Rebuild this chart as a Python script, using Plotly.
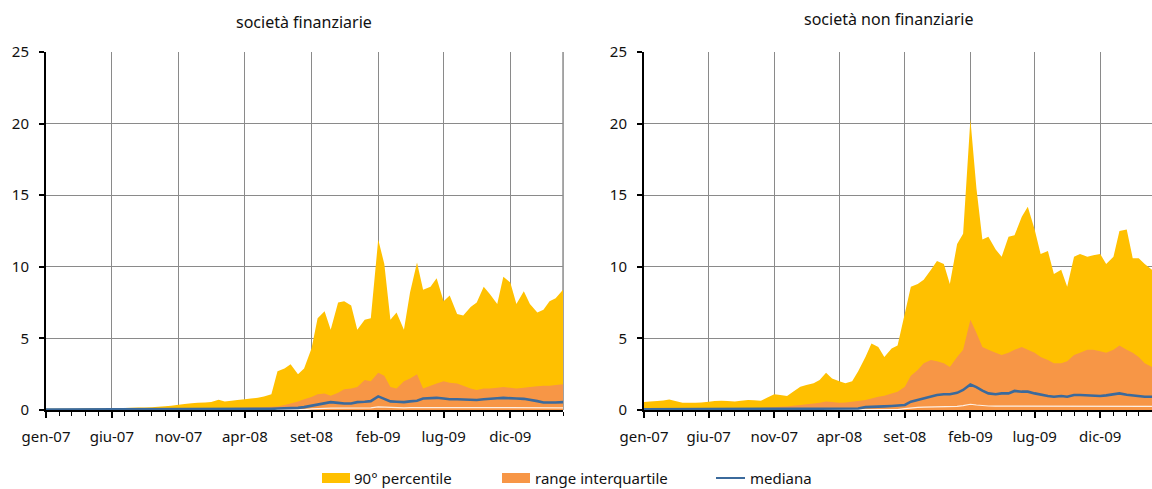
import pandas as pd
import plotly.graph_objects as go
from plotly.subplots import make_subplots

# semi-monthly observations, Jan 2007 - Apr 2010
dates = pd.date_range("2007-01-01", periods=79, freq="SMS")

tick_dates = ["2007-01-01", "2007-06-01", "2007-11-01", "2008-04-01",
              "2008-09-01", "2009-02-01", "2009-07-01", "2009-12-01"]
tick_labels = ["gen-07", "giu-07", "nov-07", "apr-08", "set-08", "feb-09", "lug-09", "dic-09"]

# società finanziarie
fin_p90 = [0.08, 0.08, 0.08, 0.08, 0.09, 0.09, 0.1, 0.1, 0.1, 0.1,
           0.12, 0.12, 0.14, 0.15, 0.17, 0.18, 0.2, 0.22, 0.26, 0.3,
           0.36, 0.42, 0.47, 0.5, 0.52, 0.55, 0.72, 0.6, 0.65, 0.7,
           0.75, 0.8, 0.85, 0.95, 1.1, 2.7, 2.9, 3.2, 2.5, 2.9,
           4.3, 6.4, 6.9, 5.6, 7.5, 7.6, 7.3, 5.6, 6.3, 6.4,
           11.9, 10.2, 6.3, 6.8, 5.6, 8.2, 10.3, 8.4, 8.6, 9.2,
           7.6, 8.0, 6.7, 6.6, 7.2, 7.5, 8.6, 8.1, 7.4, 9.3,
           8.9, 7.4, 8.3, 7.4, 6.8, 7.0, 7.6, 7.8, 8.4]
fin_p75 = [0.04, 0.04, 0.04, 0.04, 0.04, 0.04, 0.04, 0.04, 0.04, 0.04,
           0.05, 0.05, 0.05, 0.05, 0.05, 0.05, 0.05, 0.05, 0.05, 0.05,
           0.07, 0.07, 0.07, 0.07, 0.1, 0.1, 0.12, 0.12, 0.14, 0.15,
           0.16, 0.17, 0.18, 0.2, 0.22, 0.25, 0.35, 0.45, 0.6, 0.75,
           0.9, 1.1, 1.15, 1.0, 1.2, 1.45, 1.5, 1.6, 2.1, 2.0,
           2.6, 2.4, 1.6, 1.5, 2.0, 2.2, 2.5, 1.5, 1.7, 1.85,
           2.0, 1.9, 1.85, 1.7, 1.5, 1.4, 1.5, 1.5, 1.55, 1.6,
           1.55, 1.5, 1.55, 1.6, 1.65, 1.7, 1.7, 1.75, 1.8]
fin_median = [0.04, 0.04, 0.04, 0.04, 0.04, 0.04, 0.04, 0.04, 0.04, 0.04,
              0.04, 0.04, 0.04, 0.04, 0.04, 0.04, 0.04, 0.04, 0.04, 0.04,
              0.04, 0.04, 0.04, 0.04, 0.04, 0.04, 0.04, 0.04, 0.04, 0.04,
              0.04, 0.04, 0.04, 0.04, 0.08, 0.1, 0.1, 0.12, 0.15, 0.2,
              0.3, 0.4, 0.5, 0.55, 0.5, 0.45, 0.45, 0.55, 0.58, 0.62,
              0.95, 0.75, 0.6, 0.58, 0.55, 0.6, 0.65, 0.8, 0.82, 0.85,
              0.8, 0.75, 0.75, 0.73, 0.72, 0.7, 0.75, 0.8, 0.82, 0.85,
              0.8, 0.8, 0.78, 0.72, 0.62, 0.52, 0.5, 0.52, 0.55]
fin_low = [0.02, 0.02, 0.02, 0.02, 0.02, 0.02, 0.02, 0.02, 0.02, 0.02,
           0.02, 0.02, 0.02, 0.02, 0.02, 0.02, 0.02, 0.02, 0.02, 0.02,
           0.02, 0.02, 0.02, 0.02, 0.02, 0.02, 0.02, 0.02, 0.02, 0.02,
           0.02, 0.02, 0.02, 0.02, 0.02, 0.02, 0.02, 0.02, 0.02, 0.02,
           0.08, 0.12, 0.12, 0.13, 0.13, 0.14, 0.14, 0.15, 0.15, 0.15,
           0.22, 0.2, 0.16, 0.15, 0.15, 0.16, 0.17, 0.18, 0.18, 0.18,
           0.17, 0.17, 0.17, 0.17, 0.16, 0.16, 0.17, 0.18, 0.18, 0.18,
           0.18, 0.17, 0.17, 0.16, 0.15, 0.15, 0.15, 0.15, 0.15]

# società non finanziarie
nfin_p90 = [0.55, 0.6, 0.63, 0.67, 0.74, 0.62, 0.5, 0.5, 0.5, 0.53,
            0.58, 0.62, 0.65, 0.62, 0.6, 0.65, 0.7, 0.68, 0.65, 0.86,
            1.1, 1.05, 0.98, 1.28, 1.63, 1.75, 1.86, 2.1, 2.6, 2.2,
            2.0, 1.86, 2.0, 2.7, 3.7, 4.65, 4.4, 3.7, 4.3, 4.5,
            6.75, 8.6, 8.8, 9.1, 9.8, 10.4, 10.2, 8.8, 11.6, 12.3,
            20.3, 15.5, 11.9, 12.1, 11.2, 10.7, 12.1, 12.2, 13.5, 14.2,
            12.6, 10.9, 11.1, 9.5, 9.8, 8.6, 10.7, 10.9, 10.7, 10.8,
            10.9, 10.2, 10.7, 12.5, 12.6, 10.6, 10.6, 10.2, 9.8]
nfin_p75 = [0.05, 0.05, 0.05, 0.05, 0.05, 0.05, 0.05, 0.05, 0.06, 0.06,
            0.06, 0.07, 0.07, 0.08, 0.08, 0.09, 0.1, 0.12, 0.14, 0.17,
            0.2, 0.22, 0.25, 0.3, 0.35, 0.4, 0.45, 0.5, 0.6, 0.55,
            0.5, 0.52, 0.58, 0.62, 0.7, 0.8, 0.93, 1.0, 1.16, 1.28,
            1.63, 2.4, 2.8, 3.26, 3.5, 3.4, 3.26, 3.0, 3.7, 4.2,
            6.3, 5.4, 4.4, 4.2, 4.0, 3.84, 4.0, 4.2, 4.4, 4.2,
            4.0, 3.7, 3.5, 3.26, 3.26, 3.4, 3.84, 4.0, 4.2, 4.2,
            4.1, 4.0, 4.2, 4.5, 4.2, 4.0, 3.7, 3.26, 3.0]
nfin_median = [0.05, 0.05, 0.05, 0.05, 0.05, 0.05, 0.05, 0.05, 0.05, 0.05,
               0.05, 0.05, 0.05, 0.05, 0.05, 0.05, 0.05, 0.05, 0.05, 0.05,
               0.05, 0.05, 0.05, 0.05, 0.05, 0.05, 0.05, 0.05, 0.05, 0.05,
               0.06, 0.07, 0.08, 0.1, 0.2, 0.2, 0.22, 0.25, 0.28, 0.3,
               0.35, 0.58, 0.7, 0.8, 0.98, 1.05, 1.1, 1.1, 1.2, 1.4,
               1.78, 1.6, 1.35, 1.16, 1.1, 1.16, 1.16, 1.33, 1.28, 1.28,
               1.16, 1.07, 0.98, 0.93, 0.98, 0.93, 1.05, 1.05, 1.02, 0.98,
               0.98, 1.02, 1.1, 1.16, 1.07, 1.02, 0.98, 0.93, 0.93]
nfin_low = [0.03, 0.03, 0.03, 0.03, 0.03, 0.03, 0.03, 0.03, 0.03, 0.03,
            0.03, 0.03, 0.03, 0.03, 0.03, 0.03, 0.03, 0.03, 0.03, 0.03,
            0.03, 0.03, 0.03, 0.03, 0.03, 0.03, 0.03, 0.03, 0.03, 0.03,
            0.03, 0.03, 0.03, 0.03, 0.03, 0.03, 0.03, 0.03, 0.03, 0.03,
            0.1, 0.15, 0.18, 0.2, 0.2, 0.22, 0.22, 0.2, 0.25, 0.3,
            0.4, 0.35, 0.3, 0.28, 0.27, 0.27, 0.28, 0.3, 0.3, 0.3,
            0.28, 0.27, 0.26, 0.25, 0.25, 0.25, 0.26, 0.27, 0.27, 0.27,
            0.27, 0.27, 0.28, 0.3, 0.28, 0.27, 0.26, 0.25, 0.25]

legend_names = ["90° percentile", "range interquartile", "mediana"]

YELLOW = "#ffc000"
ORANGE = "#f79646"
BLUE = "#3b6a9c"
GRID = "#8a8a8a"
FONT = "Noto Sans"

fig = make_subplots(rows=1, cols=2)

panels = [
    (1, fin_p90, fin_p75, fin_median, fin_low),
    (2, nfin_p90, nfin_p75, nfin_median, nfin_low),
]
for col, p90, p75, med, low in panels:
    fig.add_trace(go.Scatter(x=dates, y=p90, mode="none", fill="tozeroy", fillcolor=YELLOW,
                             name=legend_names[0]), row=1, col=col)
    fig.add_trace(go.Scatter(x=dates, y=p75, mode="none", fill="tozeroy", fillcolor=ORANGE,
                             name=legend_names[1]), row=1, col=col)
    fig.add_trace(go.Scatter(x=dates, y=low, mode="lines", hoverinfo="skip",
                             line=dict(color="rgba(255,255,255,0.85)", width=1.2)), row=1, col=col)
    fig.add_trace(go.Scatter(x=dates, y=med, mode="lines", line=dict(color=BLUE, width=2.6),
                             name=legend_names[2]), row=1, col=col)

xaxis_style = dict(
    type="date", range=["2007-01-01", "2010-04-01"],
    tickvals=tick_dates, ticktext=tick_labels,
    showgrid=True, gridcolor=GRID, gridwidth=1.4,
    showline=True, linecolor="black", linewidth=2,
    ticks="outside", ticklen=6, tickcolor="black", tickwidth=1.5,
    minor=dict(dtick="M1", tick0="2007-01-01", ticks="outside", ticklen=4,
               tickcolor="black", tickwidth=1.2, showgrid=False),
    tickfont=dict(size=15, color="#111111"), ticklabelstandoff=6,
    zeroline=False, layer="below traces", automargin=False,
)
yaxis_style = dict(
    range=[0, 25], tickvals=[0, 5, 10, 15, 20, 25],
    showgrid=True, gridcolor=GRID, gridwidth=1.4,
    showline=True, linecolor="black", linewidth=2,
    ticks="outside", ticklen=5, tickcolor="black", tickwidth=1.5,
    tickfont=dict(size=15, color="#111111"), ticklabelstandoff=7,
    zeroline=False, layer="below traces", automargin=False,
)

fig.update_layout(
    width=1152, height=489,
    margin=dict(l=46, r=0, t=52, b=79),
    plot_bgcolor="white", paper_bgcolor="white",
    font=dict(family=FONT, size=15, color="#111111"),
    xaxis=dict(domain=[0, 0.4675], **xaxis_style),
    xaxis2=dict(domain=[0.5407, 1.0], **xaxis_style),
    yaxis=dict(**yaxis_style),
    yaxis2=dict(**yaxis_style),
    showlegend=False,
)

# right border of the first panel
fig.add_shape(type="line", xref="x domain", yref="y domain", x0=1, x1=1, y0=0, y1=1,
              line=dict(color=GRID, width=1.5), layer="below")

fig.add_annotation(text="società finanziarie", xref="paper", yref="paper",
                   x=0.2333, y=1.084, showarrow=False, font=dict(size=16),
                   xanchor="center", yanchor="middle")
fig.add_annotation(text="società non finanziarie", xref="paper", yref="paper",
                   x=0.762, y=1.092, showarrow=False, font=dict(size=16),
                   xanchor="center", yanchor="middle")

# legend drawn below the panels (pixel positions converted to paper units)
W, H, L, B, T = 1152, 489, 46, 79, 52
pw, ph = W - L, H - T - B


def px_x(v):
    return (v - L) / pw


def px_y(v):
    return (H - B - v) / ph


leg_y = 478
fig.add_shape(type="rect", xref="paper", yref="paper", x0=px_x(322), x1=px_x(350),
              y0=px_y(leg_y + 5), y1=px_y(leg_y - 5), fillcolor=YELLOW, line_width=0)
fig.add_shape(type="rect", xref="paper", yref="paper", x0=px_x(502), x1=px_x(530),
              y0=px_y(leg_y + 5), y1=px_y(leg_y - 5), fillcolor=ORANGE, line_width=0)
fig.add_shape(type="line", xref="paper", yref="paper", x0=px_x(716), x1=px_x(745),
              y0=px_y(leg_y), y1=px_y(leg_y), line=dict(color=BLUE, width=2))
for xpos, name in zip([352, 533, 748], legend_names):
    fig.add_annotation(text=name, xref="paper", yref="paper", x=px_x(xpos), y=px_y(leg_y),
                       showarrow=False, xanchor="left", yanchor="middle", font=dict(size=15))

# the page body has a default 8px margin; drop it so the figure fills the window
fig.write_html("out.html", config={"displayModeBar": False},
               post_script="document.body.style.margin='0';")
